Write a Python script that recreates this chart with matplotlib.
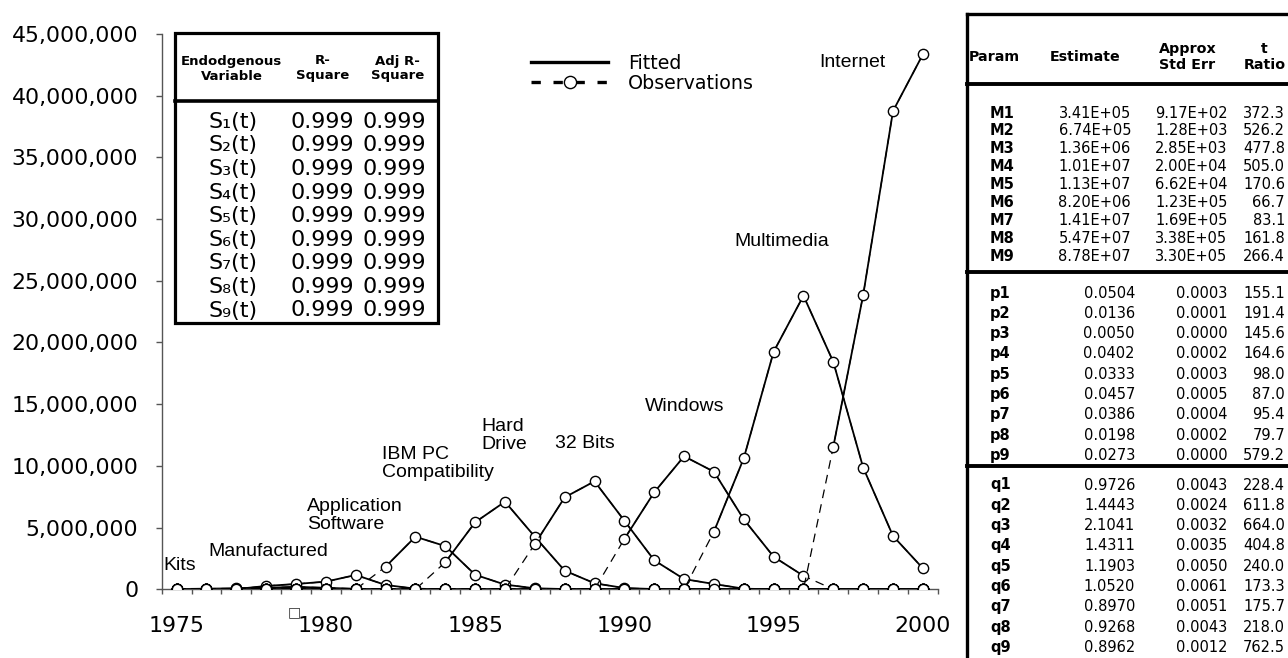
import matplotlib
matplotlib.use('Agg')
import matplotlib.pyplot as plt
from matplotlib.lines import Line2D
from matplotlib.patches import Rectangle
from matplotlib.ticker import FuncFormatter, FixedLocator
import numpy as np

W, H = 1288, 658

# ---------------- data ----------------
YEARS = list(range(1975, 2001))
SCALE = 1e6  # values below are in millions

KITS         = [0.02, 0.05, 0.08, 0.10, 0.07, 0.03, 0.01, 0, 0, 0, 0, 0, 0, 0, 0, 0, 0, 0, 0, 0, 0, 0, 0, 0, 0, 0]
MANUFACTURED = [0, 0.01, 0.04, 0.12, 0.20, 0.12, 0.04, 0.01, 0, 0, 0, 0, 0, 0, 0, 0, 0, 0, 0, 0, 0, 0, 0, 0, 0, 0]
APP_SOFTWARE = [0, 0, 0.02, 0.27, 0.43, 0.62, 1.16, 0.35, 0.05, 0, 0, 0, 0, 0, 0, 0, 0, 0, 0, 0, 0, 0, 0, 0, 0, 0]
IBM_PC       = [0, 0, 0, 0, 0, 0, 0, 1.83, 4.26, 3.50, 1.18, 0.38, 0.08, 0.02, 0, 0, 0, 0, 0, 0, 0, 0, 0, 0, 0, 0]
HARD_DRIVE   = [0, 0, 0, 0, 0, 0, 0, 0, 0, 2.19, 5.43, 7.10, 4.26, 1.51, 0.49, 0.10, 0.02, 0, 0, 0, 0, 0, 0, 0, 0, 0]
BITS_32      = [0, 0, 0, 0, 0, 0, 0, 0, 0, 0, 0, 0, 3.67, 7.45, 8.75, 5.56, 2.35, 0.83, 0.43, 0.05, 0, 0, 0, 0, 0, 0]
WINDOWS      = [0, 0, 0, 0, 0, 0, 0, 0, 0, 0, 0, 0, 0, 0, 0, 4.08, 7.86, 10.78, 9.53, 5.67, 2.64, 1.09, 0, 0, 0, 0]
MULTIMEDIA   = [0, 0, 0, 0, 0, 0, 0, 0, 0, 0, 0, 0, 0, 0, 0, 0, 0, 0, 4.67, 10.62, 19.25, 23.79, 18.42, 9.86, 4.32, 1.70]
INTERNET     = [0, 0, 0, 0, 0, 0, 0, 0, 0, 0, 0, 0, 0, 0, 0, 0, 0, 0, 0, 0, 0, 0, 11.56, 23.85, 38.76, 43.35]

SERIES = [KITS, MANUFACTURED, APP_SOFTWARE, IBM_PC, HARD_DRIVE, BITS_32, WINDOWS, MULTIMEDIA, INTERNET]
FIT_START = [1975, 1976, 1977, 1982, 1984, 1987, 1990, 1993, 1997]
FIT_END   = [2000, 2000, 2000, 2000, 2000, 2000, 1996, 2000, 2000]

LABELS  = ['Kits', 'Manufactured', 'Application\nSoftware', 'IBM PC\nCompatibility', 'Hard\nDrive',
           '32 Bits', 'Windows', 'Multimedia', 'Internet']
LABEL_X = [1974.55, 1976.06, 1979.36, 1981.87, 1985.22, 1987.68, 1990.69, 1993.68, 1996.52]
LABEL_Y = [1.89, 3.05, 5.96, 10.17, 12.46, 11.85, 14.8, 28.2, 42.67]

Y_TICKS = [0, 5e6, 10e6, 15e6, 20e6, 25e6, 30e6, 35e6, 40e6, 45e6]
X_TICKS = [1975, 1980, 1985, 1990, 1995, 2000]

# R-square table
RS_HEADER = ['Endodgenous\nVariable', 'R-\nSquare', 'Adj R-\nSquare']
RS_VARS = ['S₁(t)', 'S₂(t)', 'S₃(t)', 'S₄(t)', 'S₅(t)', 'S₆(t)', 'S₇(t)', 'S₈(t)', 'S₉(t)']
RS_R2   = ['0.999', '0.999', '0.999', '0.999', '0.999', '0.999', '0.999', '0.999', '0.999']
RS_ADJ  = ['0.999', '0.999', '0.999', '0.999', '0.999', '0.999', '0.999', '0.999', '0.999']

# parameter table
PT_HEADER = ['Param', 'Estimate', 'Approx\nStd Err', 't\nRatio']
M_NAMES = ['M1', 'M2', 'M3', 'M4', 'M5', 'M6', 'M7', 'M8', 'M9']
M_EST   = ['3.41E+05', '6.74E+05', '1.36E+06', '1.01E+07', '1.13E+07', '8.20E+06', '1.41E+07', '5.47E+07', '8.78E+07']
M_SE    = ['9.17E+02', '1.28E+03', '2.85E+03', '2.00E+04', '6.62E+04', '1.23E+05', '1.69E+05', '3.38E+05', '3.30E+05']
M_T     = ['372.3', '526.2', '477.8', '505.0', '170.6', '66.7', '83.1', '161.8', '266.4']
P_NAMES = ['p1', 'p2', 'p3', 'p4', 'p5', 'p6', 'p7', 'p8', 'p9']
P_EST   = ['0.0504', '0.0136', '0.0050', '0.0402', '0.0333', '0.0457', '0.0386', '0.0198', '0.0273']
P_SE    = ['0.0003', '0.0001', '0.0000', '0.0002', '0.0003', '0.0005', '0.0004', '0.0002', '0.0000']
P_T     = ['155.1', '191.4', '145.6', '164.6', '98.0', '87.0', '95.4', '79.7', '579.2']
Q_NAMES = ['q1', 'q2', 'q3', 'q4', 'q5', 'q6', 'q7', 'q8', 'q9']
Q_EST   = ['0.9726', '1.4443', '2.1041', '1.4311', '1.1903', '1.0520', '0.8970', '0.9268', '0.8962']
Q_SE    = ['0.0043', '0.0024', '0.0032', '0.0035', '0.0050', '0.0061', '0.0051', '0.0043', '0.0012']
Q_T     = ['228.4', '611.8', '664.0', '404.8', '240.0', '173.3', '175.7', '218.0', '762.5']

# ---------------- figure ----------------
plt.rcParams['font.family'] = ['DejaVu Sans']
fig = plt.figure(figsize=(W / 100, H / 100), dpi=100)


def fx(px):
    return px / W


def fy(py):
    return 1 - py / H


AX_L, AX_R, AX_T, AX_B = 161.7, 937.8, 34.0, 589.3
ax = fig.add_axes([fx(AX_L), fy(AX_B), (AX_R - AX_L) / W, (AX_B - AX_T) / H])
ax.set_xlim(1974.5, 2000.5)
ax.set_ylim(0, 45e6)

years = np.array(YEARS)
for vals, s, e in zip(SERIES, FIT_START, FIT_END):
    v = np.array(vals) * SCALE
    ax.plot(years, v, linestyle=(0, (7, 5)), lw=0.9, color='black',
            marker='o', ms=7.4, mfc='white', mec='black', mew=1.0, zorder=3)
    m = (years >= s) & (years <= e)
    ax.plot(years[m], v[m], '-', lw=1.3, color='black', zorder=2)

for lab, lx, ly in zip(LABELS, LABEL_X, LABEL_Y):
    ax.text(lx, ly * SCALE, lab, ha='left', va='center', fontsize=14,
            family='Liberation Sans', linespacing=1.08, zorder=5)

# small box glyph that sits just left of the 1980 label
ax.text(1978.93, -1.85e6, '□', ha='center', va='center', fontsize=10,
        color='#333333', clip_on=False)

for sp in ['top', 'right']:
    ax.spines[sp].set_visible(False)
for sp in ['left', 'bottom']:
    ax.spines[sp].set_color('#555555')
    ax.spines[sp].set_linewidth(1.0)

ax.xaxis.set_major_locator(FixedLocator(X_TICKS))
ax.xaxis.set_minor_locator(FixedLocator(np.arange(1974.5, 2001, 1.0)))
ax.yaxis.set_major_locator(FixedLocator(Y_TICKS))
ax.yaxis.set_major_formatter(FuncFormatter(lambda v, p: f'{v:,.0f}'))
ax.tick_params(axis='x', which='major', length=0, pad=19.5, labelsize=15.8)
ax.tick_params(axis='x', which='minor', length=3.8, width=1.0, color='#555555', direction='out')
ax.tick_params(axis='y', which='major', length=4.3, width=1.0, color='#555555',
               direction='out', pad=12.5, labelsize=15.8)

# legend
h_fit = Line2D([], [], color='black', lw=2.4)
h_obs = Line2D([], [], color='black', lw=2.4, linestyle=(0, (2.8, 3.8)), marker='o',
               ms=8.8, mfc='white', mec='black', mew=1.0)
leg = ax.legend([h_fit, h_obs], ['Fitted', 'Observations'], loc='upper left',
                bbox_to_anchor=(fx(531), fy(54)), bbox_transform=fig.transFigure,
                frameon=False, fontsize=13.7, handlelength=4.05, handletextpad=1.05,
                borderpad=0, borderaxespad=0, labelspacing=0.05, numpoints=1)

# ---------------- R-square table ----------------
LT_L, LT_R, LT_T, LT_B = 175, 438, 33.3, 323
fig.add_artist(Rectangle((fx(LT_L), fy(LT_B)), (LT_R - LT_L) / W, (LT_B - LT_T) / H,
                         transform=fig.transFigure, fill=False, lw=2.3, ec='black'))
fig.add_artist(Line2D([fx(LT_L), fx(LT_R)], [fy(101), fy(101)], transform=fig.transFigure,
                      lw=2.6, color='black'))
lt_cols = [231.7, 322.5, 397.5]
for cx, htxt in zip(lt_cols, RS_HEADER):
    fig.text(fx(cx), fy(68.5), htxt, ha='center', va='center', fontsize=9.5,
             fontweight='bold', linespacing=1.2, multialignment='center')
row0, rstep = 121.7, 23.6
for i in range(len(RS_VARS)):
    yy = fy(row0 + i * rstep)
    fig.text(fx(233), yy, RS_VARS[i], ha='center', va='center', fontsize=16)
    fig.text(fx(322.5), yy, RS_R2[i], ha='center', va='center', fontsize=16)
    fig.text(fx(394.5), yy, RS_ADJ[i], ha='center', va='center', fontsize=16)

# ---------------- parameter table ----------------
RT_L, RT_T = 966.7, 14
fig.add_artist(Line2D([fx(RT_L), fx(RT_L)], [fy(RT_T), fy(H + 5)], transform=fig.transFigure,
                      lw=2.4, color='black'))
fig.add_artist(Line2D([fx(RT_L), fx(W + 5)], [fy(RT_T), fy(RT_T)], transform=fig.transFigure,
                      lw=2.4, color='black'))
for sy in [84, 272, 466]:
    fig.add_artist(Line2D([fx(RT_L), fx(W + 5)], [fy(sy), fy(sy)], transform=fig.transFigure,
                          lw=2.8, color='black'))

hdr_x = [994.5, 1085, 1187.5, 1264.5]
for cx, htxt in zip(hdr_x, PT_HEADER):
    fig.text(fx(cx), fy(57), htxt, ha='center', va='center', fontsize=10.3,
             fontweight='bold', linespacing=1.1, multialignment='center')

sections = [
    (M_NAMES, M_EST, M_SE, M_T, 113.0, 17.9, 1131),
    (P_NAMES, P_EST, P_SE, P_T, 293.0, 20.3, 1135),
    (Q_NAMES, Q_EST, Q_SE, Q_T, 485.0, 20.3, 1135),
]
for names, est, se, tr, y0, step, est_r in sections:
    for i in range(len(names)):
        yy = fy(y0 + i * step)
        fig.text(fx(990), yy, names[i], ha='left', va='center', fontsize=10.5, fontweight='bold')
        fig.text(fx(est_r), yy, est[i], ha='right', va='center', fontsize=10.5)
        fig.text(fx(1227.5), yy, se[i], ha='right', va='center', fontsize=10.5)
        fig.text(fx(1285), yy, tr[i], ha='right', va='center', fontsize=10.5)

fig.savefig('out.png', dpi=100)
